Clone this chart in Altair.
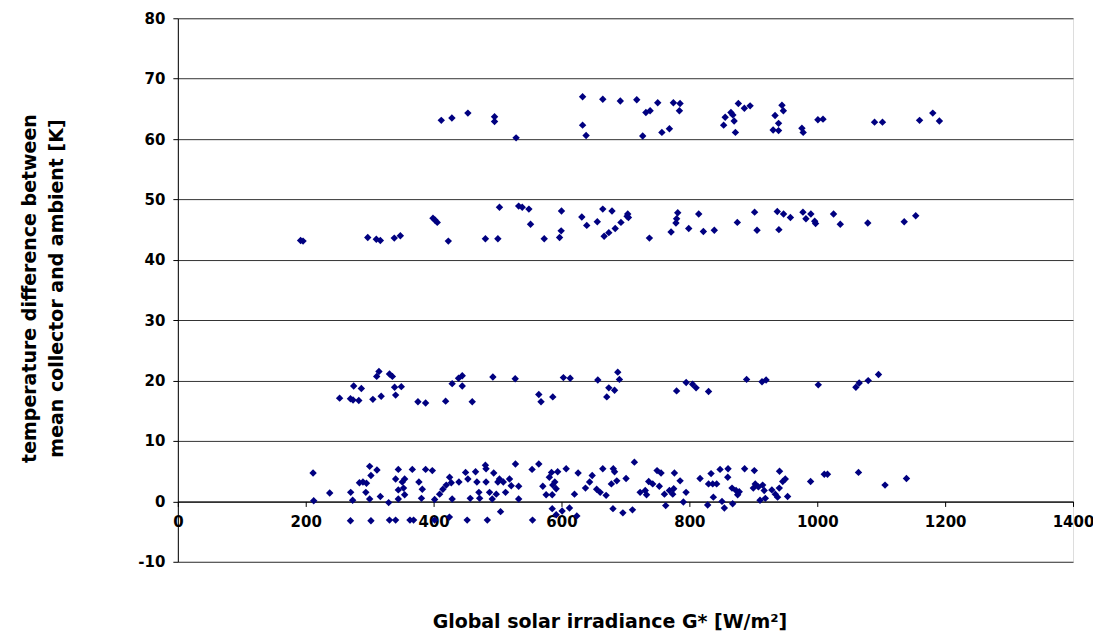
import altair as alt
import pandas as pd

# Group near 60-67 K
g60 = [412, 428.6, 453.6, 495.3, 495.3, 529, 633, 633, 638.5, 664.6, 692, 717.7, 727, 732,
       738.6, 750.5, 757, 768.8, 775, 784.4, 785.4, 853.6, 856, 865, 868, 870, 872, 876.6,
       886, 895, 931, 934, 939.5, 939.5, 944.8, 947, 976, 978, 1001, 1009, 1089.6, 1102,
       1160, 1180.7, 1191]
t60 = [63.1, 63.5, 64.3, 63.7, 62.9, 60.2, 67.0, 62.3, 60.6, 66.6, 66.3, 66.5, 60.5, 64.4,
       64.7, 66.0, 61.1, 61.7, 66.0, 64.7, 65.9, 62.3, 63.6, 64.4, 64.0, 63.0, 61.1, 65.9,
       65.1, 65.5, 61.5, 63.9, 62.6, 61.4, 65.6, 64.7, 61.8, 61.1, 63.2, 63.3, 62.8, 62.8,
       63.1, 64.3, 63.0]

# Group near 43-49 K
g45 = [192, 195.8, 297, 310.4, 316.7, 338.5, 348, 399, 402, 405.7, 423, 481, 500.5, 503,
       533, 538.6, 549, 551.6, 573, 597, 599.5, 600, 631.8, 639.5, 656, 664.6, 666.7, 674,
       679, 684, 693, 702.6, 703.6, 704.7, 737.5, 771.4, 779, 780, 781.8, 799, 814.6, 821.9,
       839, 875, 902, 905.8, 937.5, 940, 947.3, 958, 977.6, 982.3, 990, 996, 997.4, 1025.5,
       1036, 1079, 1136, 1154]
t45 = [43.2, 43.1, 43.7, 43.4, 43.2, 43.6, 44.0, 46.9, 46.6, 46.2, 43.1, 43.5, 43.5, 48.7,
       48.9, 48.7, 48.4, 45.9, 43.5, 43.7, 44.8, 48.1, 47.1, 45.7, 46.3, 48.4, 43.9, 44.5,
       48.1, 45.2, 46.2, 47.2, 47.6, 47.0, 43.6, 44.6, 46.1, 46.8, 47.8, 45.2, 47.6, 44.7,
       44.9, 46.2, 47.9, 44.9, 48.0, 45.0, 47.6, 47.0, 47.9, 46.8, 47.6, 46.4, 46.0, 47.6,
       45.9, 46.1, 46.3, 47.3]

# Group near 16-22 K
g20 = [253, 270, 274, 275, 283, 287, 305, 311, 314.5, 318, 331, 335.5, 339, 340.6, 349.5,
       375.5, 387.5, 418.8, 429, 439, 444.8, 444.8, 460.4, 492.7, 527.6, 564.5, 568, 586.4,
       603, 613.6, 656.8, 670.8, 674, 683, 688, 690.6, 780, 795, 805, 810.5, 830, 889.5,
       913.6, 920, 1001.6, 1060.4, 1065.6, 1079.7, 1095.8]
t20 = [17.1, 17.0, 16.8, 19.1, 16.7, 18.7, 16.9, 20.7, 21.5, 17.4, 21.1, 20.7, 18.9, 17.6, 19.0,
       16.5, 16.3, 16.6, 19.5, 20.4, 20.8, 19.1, 16.5, 20.6, 20.3, 17.7, 16.5, 17.3,
       20.5, 20.4, 20.1, 17.3, 18.8, 18.4, 21.4, 20.2, 18.3, 19.7, 19.4, 18.8, 18.2, 20.2,
       19.8, 20.1, 19.3, 18.9, 19.6, 20.0, 21.0]

# Group near 0 K
g0 = [211.5, 212.5, 237.5, 270.3, 273.4, 270, 284, 289.5, 295, 294, 300, 302, 300, 302, 311.4,
      316.7, 329.7, 331, 340.6, 344.8, 340.6, 344.8, 344.8,
      351, 354.7, 353, 354.7, 366.7, 377, 382.3, 381, 387.5, 398, 401.6, 409.4, 414.5, 419.8,
      425, 427.6, 429, 439.6, 450, 453.6, 457.3, 465.6, 467.7, 470.8, 472, 481, 482, 482,
      487.5, 491.7, 494, 498, 500.5, 503, 509, 512.5, 518.7, 521.4, 528, 533, 533, 554,
      564.5, 570.8, 576, 581, 584.4, 586.4, 589.5, 591.7, 585.5, 594, 607.3, 620.3, 626,
      637.5, 644, 648, 655, 660.5, 664.6, 669.8, 678,
      363, 368.7, 401.6, 424.7, 452.5, 484, 504.7, 554.7, 585.5, 591.7, 601, 612.5, 624,
      680.5, 696, 711, 763,
      681, 683, 686.5, 701, 714, 723, 731, 733, 736.4, 742.7, 749.5, 755.7, 753, 761, 768.8,
      776.6, 775.5, 774, 785.5, 794.8, 790.6, 816.7, 828.6, 833.9, 830, 836.5, 842.7, 837.5,
      848, 860.5, 860, 851, 854.7, 866.7, 873, 878, 875.5, 867.7, 886.4, 901.6, 903, 900,
      908, 914.6, 917, 918.8, 910.5, 929, 934.4, 938, 941, 946, 950, 940.6, 953.6, 989.6,
      1011, 1016, 1064.5, 1106, 1139.5]
t0 = [4.7, 0.1, 1.4, 1.5, 0.2, -3.2, 3.1, 3.2, 3.0, 1.5, 5.8, 4.3, 0.4, -3.2, 5.2,
      0.8, -0.2, -3.1, -3.1, 5.3, 3.7, 1.9, 0.4,
      3.2, 3.7, 2.2, 1.1, 5.3, 3.2, 2.0, 0.5, 5.3, 5.1, 0.3, 1.2, 2.0, 2.7,
      4.0, 3.1, 0.4, 3.2, 4.8, 3.7, 0.5, 4.9, 3.2, 1.5, 0.5, 6.0, 5.4, 3.2,
      1.5, 0.4, 4.7, 1.2, 3.2, 3.7, 3.2, 1.5, 3.7, 2.6, 6.2, 2.5, 0.4, 5.3,
      6.2, 2.5, 1.1, 4.0, 4.8, 2.7, 3.2, 2.1, 1.1, 4.9, 5.4, 1.2, 4.7,
      2.2, 3.2, 4.3, 2.0, 1.5, 5.4, 1.0, 2.9,
      -3.1, -3.1, -3.1, -2.6, -3.1, -3.1, -1.7, -3.1, -1.2, -2.2, -1.6, -1.1, -2.4,
      -1.2, -1.9, -1.4, -0.7,
      5.4, 4.9, 3.4, 3.8, 6.5, 1.5, 1.8, 1.1, 3.3, 2.9, 5.1, 4.7, 2.5, 1.2, 1.8,
      4.7, 2.1, 1.2, 3.4, 1.5, -0.1, 3.8, -0.6, 4.6, 2.9, 2.9, 2.9, 0.7,
      5.3, 5.4, 4.0, 0.0, -1.1, 2.2, 1.8, 1.6, 1.1, -0.4, 5.4, 5.1, 2.9, 2.2,
      2.4, 2.7, 1.8, 0.5, 0.2, 1.9, 1.2, 0.7, 5.0, 3.3, 3.7, 2.2, 0.8, 3.3,
      4.5, 4.5, 4.8, 2.7, 3.8]

x_ticks = [0, 200, 400, 600, 800, 1000, 1200, 1400]
y_ticks = [-10, 0, 10, 20, 30, 40, 50, 60, 70, 80]

df = pd.DataFrame({
    "G": g60 + g45 + g20 + g0,
    "dT": t60 + t45 + t20 + t0,
})

FONT = "DejaVu Sans"

chart = alt.Chart(df).mark_point(
    shape="diamond", filled=True, size=55, color="#000080", opacity=1
).encode(
    x=alt.X("G:Q",
            scale=alt.Scale(domain=[0, 1400], nice=False, zero=False),
            axis=alt.Axis(values=x_ticks, labelExpr="'' + datum.value", grid=False,
                          offset=-60.4,
                          domainColor="black", tickColor="black", tickSize=5,
                          labelFont=FONT, labelFontSize=15, labelFontWeight="bold",
                          labelColor="black", labelPadding=8, labelFlush=False,
                          title="Global solar irradiance G* [W/m²]",
                          titleFont=FONT, titleFontSize=19, titleFontWeight="bold",
                          titleColor="black", titleX=432, titleY=120,
                          titleBaseline="middle", titleAlign="center")),
    y=alt.Y("dT:Q",
            scale=alt.Scale(domain=[-10, 80], nice=False, zero=False),
            axis=alt.Axis(values=y_ticks, labelExpr="'' + datum.value", grid=True,
                          gridColor="#333333",
                          gridWidth=1, domainColor="black", tickColor="black", tickSize=5,
                          labelFont=FONT, labelFontSize=15, labelFontWeight="bold",
                          labelColor="black", labelPadding=8,
                          title=["temperature difference between",
                                 "mean collector and ambient [K]"],
                          titleFont=FONT, titleFontSize=19, titleFontWeight="bold",
                          titleColor="black", titleX=-148, titleY=270,
                          titleBaseline="middle", titleAlign="center",
                          titleLineHeight=27)),
).properties(
    width=896, height=544,
    autosize=alt.AutoSizeParams(type="none"),
    padding={"left": 170, "top": 10, "right": 20, "bottom": 76},
).configure_view(
    stroke="#808080", strokeWidth=1
).configure(background="white")

chart.save("out.html", embed_options={"renderer": "svg", "actions": False})
